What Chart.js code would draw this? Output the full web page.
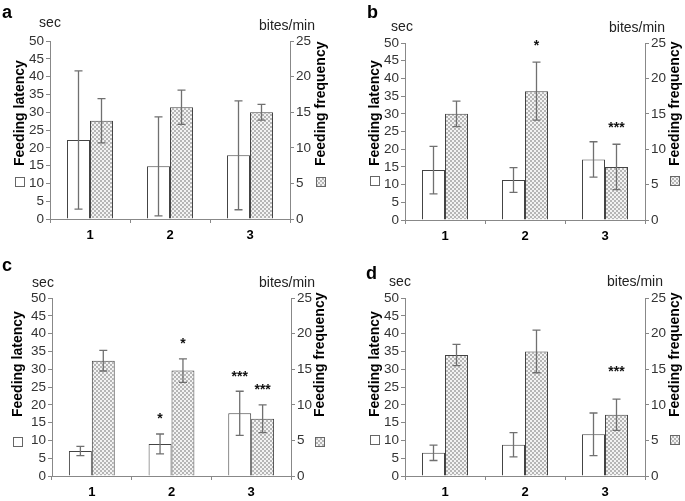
<!DOCTYPE html>
<html>
<head>
<meta charset="utf-8">
<script src="https://cdn.jsdelivr.net/npm/chart.js@4.4.0/dist/chart.umd.min.js"></script>
<style>
    body { margin: 0; background: #fff; }
    #wrap { position: relative; width: 685px; height: 501px; }
    canvas { position: absolute; }
</style>
</head>
<body>
<div id="wrap">
    <canvas id="chartA" width="342" height="250" style="left:0;top:0"></canvas>
    <canvas id="chartB" width="343" height="250" style="left:342px;top:0"></canvas>
    <canvas id="chartC" width="342" height="251" style="left:0;top:250px"></canvas>
    <canvas id="chartD" width="343" height="251" style="left:342px;top:250px"></canvas>
</div>
<script>
// --- Dados ---
const categories = ["1", "2", "3"];
const latencyTicks = [0, 5, 10, 15, 20, 25, 30, 35, 40, 45, 50];   // sec
const frequencyTicks = [0, 5, 10, 15, 20, 25];                     // bites/min

// painel a
const latencyA = [22.2, 14.8, 17.9];
const latencyErrA = [19.4, 13.9, 15.3];
const frequencyA = [13.8, 15.7, 15.0];
const frequencyErrA = [3.1, 2.4, 1.1];

// painel b
const latencyB = [14.1, 11.3, 17.1];
const latencyErrB = [6.7, 3.5, 5.0];
const frequencyB = [15.0, 18.2, 7.5];
const frequencyErrB = [1.8, 4.1, 3.2];

// painel c
const latencyC = [7.0, 9.0, 17.6];
const latencyErrC = [1.3, 2.8, 6.2];
const frequencyC = [16.2, 14.8, 8.05];
const frequencyErrC = [1.45, 1.65, 1.95];

// painel d
const latencyD = [6.5, 8.8, 11.7];
const latencyErrD = [2.15, 3.4, 6.0];
const frequencyD = [17.0, 17.5, 8.6];
const frequencyErrD = [1.5, 3.0, 2.2];

// asteriscos: ds 0 = latency, ds 1 = frequency
const starsA = [];
const starsB = [{ ds: 1, i: 1, text: "*" }, { ds: 1, i: 2, text: "***" }];
const starsC = [
    { ds: 0, i: 1, text: "*" }, { ds: 1, i: 1, text: "*" },
    { ds: 0, i: 2, text: "***" }, { ds: 1, i: 2, text: "***" },
];
const starsD = [{ ds: 1, i: 2, text: "***" }];

const FONT = "'Liberation Sans', Arial, sans-serif";

// --- Padrão quadriculado das barras de frequência ---
function criarPadrao() {
    const tile = document.createElement("canvas");
    tile.width = 4;
    tile.height = 4;
    const c = tile.getContext("2d");
    c.fillStyle = "#f3f3f3";
    c.fillRect(0, 0, 4, 4);
    c.fillStyle = "#b6b6b6";
    c.fillRect(0, 0, 2, 2);
    c.fillRect(2, 2, 2, 2);
    return c.createPattern(tile, "repeat");
}
const hatch = criarPadrao();

// --- Barras de erro ---
const errorBars = {
    id: "errorBars",
    afterDatasetsDraw(chart) {
        const ctx = chart.ctx;
        ctx.save();
        ctx.strokeStyle = "#707070";
        ctx.lineWidth = 1.3;
        chart.data.datasets.forEach((ds, d) => {
            const scale = chart.scales[ds.yAxisID];
            chart.getDatasetMeta(d).data.forEach((bar, i) => {
                const top = scale.getPixelForValue(ds.data[i] + ds.erros[i]);
                const bot = scale.getPixelForValue(ds.data[i] - ds.erros[i]);
                ctx.beginPath();
                ctx.moveTo(bar.x, top); ctx.lineTo(bar.x, bot);
                ctx.moveTo(bar.x - 4, top); ctx.lineTo(bar.x + 4, top);
                ctx.moveTo(bar.x - 4, bot); ctx.lineTo(bar.x + 4, bot);
                ctx.stroke();
            });
        });
        ctx.restore();
    },
};

// --- Textos extras: letra, unidades, títulos verticais, quadradinhos, asteriscos ---
const extras = {
    id: "extras",
    afterDraw(chart, args, o) {
        const ctx = chart.ctx;
        ctx.save();
        ctx.fillStyle = "#000";

        ctx.font = `bold 18px ${FONT}`;
        ctx.textAlign = "left";
        ctx.textBaseline = "alphabetic";
        ctx.fillText(o.letter, o.letterPos[0], o.letterPos[1]);

        ctx.font = `14px ${FONT}`;
        ctx.fillStyle = "#222";
        ctx.textAlign = "center";
        ctx.textBaseline = "middle";
        ctx.fillText("sec", o.secPos[0], o.secPos[1]);
        ctx.fillText("bites/min", o.bitesPos[0], o.bitesPos[1]);

        // títulos rotacionados (lidos de baixo para cima)
        ctx.fillStyle = "#000";
        ctx.font = `bold 14px ${FONT}`;
        ctx.textAlign = "left";
        [[o.leftTitle, "Feeding latency"], [o.rightTitle, "Feeding frequency"]].forEach(([p, txt]) => {
            ctx.save();
            ctx.translate(p[0], p[1]);
            ctx.rotate(-Math.PI / 2);
            ctx.fillText(txt, 0, 0);
            ctx.restore();
        });

        // quadradinhos de legenda
        ctx.strokeStyle = "#666";
        ctx.lineWidth = 1;
        ctx.fillStyle = "#fff";
        ctx.fillRect(o.leftTitle[0] - 5, o.boxY - 5, 10, 10);
        ctx.strokeRect(o.leftTitle[0] - 4.5, o.boxY - 4.5, 9, 9);
        ctx.fillStyle = hatch;
        ctx.fillRect(o.rightTitle[0] - 5, o.boxY - 5, 10, 10);
        ctx.strokeRect(o.rightTitle[0] - 4.5, o.boxY - 4.5, 9, 9);

        // asteriscos acima das barras de erro
        ctx.fillStyle = "#111";
        ctx.font = `bold 14px ${FONT}`;
        ctx.textAlign = "center";
        ctx.textBaseline = "alphabetic";
        o.stars.forEach((s) => {
            const ds = chart.data.datasets[s.ds];
            const bar = chart.getDatasetMeta(s.ds).data[s.i];
            const top = chart.scales[ds.yAxisID].getPixelForValue(ds.data[s.i] + ds.erros[s.i]);
            ctx.fillText(s.text, bar.x, top - o.starGap + 8);
        });
        ctx.restore();
    },
};

function eixoY(pos, ticksArr, max) {
    return {
        position: pos,
        min: 0,
        max: max,
        afterBuildTicks: (s) => { s.ticks = ticksArr.map((v) => ({ value: v })); },
        afterFit: (s) => { s.width = 30; },
        ticks: { color: "#333", padding: 2, autoSkip: false, font: { family: FONT, size: 13.5 } },
        grid: { drawOnChartArea: false, tickLength: 4, color: "#888" },
        border: { color: "#888", width: 1 },
    };
}

function criarGrafico(id, p) {
    new Chart(document.getElementById(id), {
        type: "bar",
        data: {
            labels: categories,
            datasets: [
                {
                    label: "Feeding latency",
                    data: p.lat,
                    erros: p.latErr,
                    yAxisID: "y",
                    backgroundColor: "#fff",
                    borderColor: "#444",
                    borderWidth: 1,
                    categoryPercentage: 0.575,
                    barPercentage: 1,
                },
                {
                    label: "Feeding frequency",
                    data: p.freq,
                    erros: p.freqErr,
                    yAxisID: "y1",
                    backgroundColor: hatch,
                    borderColor: "#444",
                    borderWidth: 1,
                    categoryPercentage: 0.575,
                    barPercentage: 1,
                },
            ],
        },
        options: {
            responsive: false,
            animation: false,
            layout: { padding: p.padding },
            plugins: {
                legend: { display: false },
                tooltip: { enabled: false },
                extras: p.extras,
            },
            scales: {
                x: {
                    afterFit: (s) => { s.height = 24; },
                    ticks: { color: "#000", padding: 5, font: { family: FONT, size: 13, weight: "bold" } },
                    grid: { drawOnChartArea: false, tickLength: 4, color: "#888", offset: true },
                    border: { color: "#888", width: 1 },
                },
                y: eixoY("left", latencyTicks, 50),
                y1: eixoY("right", frequencyTicks, 25),
            },
        },
        plugins: [errorBars, extras],
    });
}

criarGrafico("chartA", {
    lat: latencyA, latErr: latencyErrA, freq: frequencyA, freqErr: frequencyErrA,
    padding: { left: 20, right: 22, top: 41, bottom: 7 },
    extras: {
        letter: "a", letterPos: [2, 18], secPos: [50, 23], bitesPos: [287, 26],
        leftTitle: [20, 166], rightTitle: [321, 166], boxY: 182, stars: starsA, starGap: 19,
    },
});
criarGrafico("chartB", {
    lat: latencyB, latErr: latencyErrB, freq: frequencyB, freqErr: frequencyErrB,
    padding: { left: 33, right: 10, top: 43, bottom: 6 },
    extras: {
        letter: "b", letterPos: [25, 18], secPos: [60, 27], bitesPos: [295, 28],
        leftTitle: [33, 166], rightTitle: [333, 166], boxY: 181, stars: starsB, starGap: 20,
    },
});
criarGrafico("chartC", {
    lat: latencyC, latErr: latencyErrC, freq: frequencyC, freqErr: frequencyErrC,
    padding: { left: 22, right: 21, top: 48, bottom: 1 },
    extras: {
        letter: "c", letterPos: [2, 21], secPos: [43, 33], bitesPos: [287, 33],
        leftTitle: [18, 167], rightTitle: [320, 167], boxY: 192, stars: starsC, starGap: 18.5,
    },
});
criarGrafico("chartD", {
    lat: latencyD, latErr: latencyErrD, freq: frequencyD, freqErr: frequencyErrD,
    padding: { left: 33, right: 10, top: 48, bottom: 1 },
    extras: {
        letter: "d", letterPos: [24, 29], secPos: [58, 32], bitesPos: [293, 32],
        leftTitle: [33, 167], rightTitle: [333, 167], boxY: 190, stars: starsD, starGap: 31,
    },
});
</script>
</body>
</html>
